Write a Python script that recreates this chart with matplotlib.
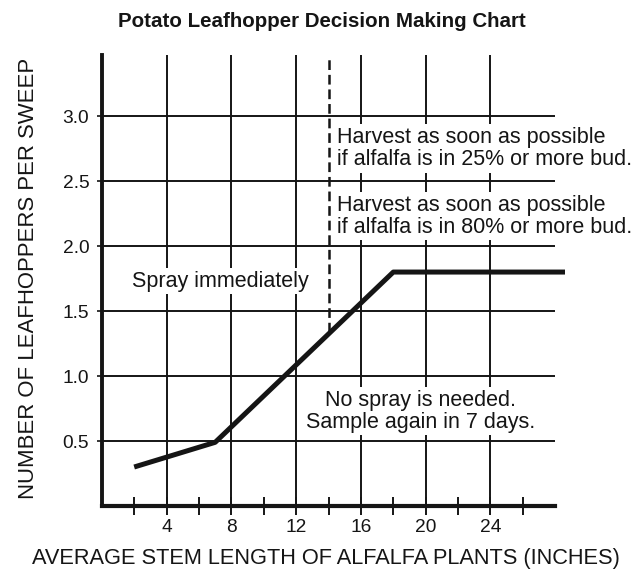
import matplotlib
matplotlib.use("Agg")
import matplotlib.pyplot as plt

plt.rcParams["font.family"] = ["Liberation Sans", "DejaVu Sans"]
plt.rcParams["lines.scale_dashes"] = False

# ── DATA ──────────────────────────
stem_length = [2, 7, 18, 28.6]          # inches
threshold   = [0.30, 0.49, 1.80, 1.80]  # leafhoppers per sweep
x_major     = [4, 8, 12, 16, 20, 24]
x_minor     = [2, 6, 10, 14, 18, 22, 26]
y_ticks     = [0.5, 1.0, 1.5, 2.0, 2.5, 3.0]
y_labels    = ["0.5", "1.0", "1.5", "2.0", "2.5", "3.0"]
bud_line_x  = 14
bud_line_y0 = 1.34

INK = "#151515"
W, H = 637, 573

fig = plt.figure(figsize=(W / 100, H / 100), dpi=100)
ax = fig.add_axes([101.8 / W, 1 - 506 / H, (565 - 101.8) / W, (506 - 55) / H])
ax.set_xlim(0, 28.6)
ax.set_ylim(0, 3.47)

# grid
for x in x_major:
    ax.axvline(x, color=INK, lw=1.4, zorder=1)
ax.hlines(y_ticks, 0, 28, color=INK, lw=1.4, zorder=1)

# 80% bud dashed line
ax.vlines(bud_line_x, bud_line_y0, 3.47, color=INK, lw=1.8,
          linestyles=[(0, (7, 3.5))], zorder=4)

# threshold curve
ax.plot(stem_length, threshold, color=INK, lw=3.6,
        solid_capstyle="butt", zorder=5)

# spines / ticks
for s in ("top", "right"):
    ax.spines[s].set_visible(False)
ax.spines["left"].set_linewidth(2.8)
ax.spines["bottom"].set_linewidth(3.0)
ax.spines["bottom"].set_bounds(0, 28)
ax.spines["left"].set_color(INK)
ax.spines["bottom"].set_color(INK)

all_x = sorted(x_major + x_minor)
ax.set_xticks(all_x)
ax.set_xticklabels([str(x) if x in x_major else "" for x in all_x])
ax.tick_params(axis="x", direction="inout", length=13, width=1.4,
               colors=INK, labelsize=13.8, pad=3)
ax.set_yticks(y_ticks)
ax.set_yticklabels(y_labels)
ax.tick_params(axis="y", direction="out", length=3.6, width=1.2,
               colors=INK, labelsize=13.8, pad=5.5)

box = dict(facecolor="white", edgecolor="none", pad=2)
txt = dict(fontsize=15.5, color=INK, linespacing=1.05, zorder=3, bbox=box)

ax.text(14.52, 2.75, "Harvest as soon as possible\nif alfalfa is in 25% or more bud.",
        ha="left", va="center", **txt)
ax.text(14.52, 2.23, "Harvest as soon as possible\nif alfalfa is in 80% or more bud.",
        ha="left", va="center", **txt)
ax.text(1.86, 1.73, "Spray immediately", ha="left", va="center", **txt)
ax.text(19.7, 0.73, "No spray is needed.\nSample again in 7 days.",
        ha="center", va="center", multialignment="center", **txt)

fig.text(322 / W, 1 - 27 / H, "Potato Leafhopper Decision Making Chart",
         ha="center", va="baseline", fontsize=14.75, fontweight="bold", color=INK)
fig.text(326 / W, 1 - 564 / H, "AVERAGE STEM LENGTH OF ALFALFA PLANTS (INCHES)",
         ha="center", va="baseline", fontsize=15.7, color=INK)
fig.text(29 / W, 1 - 278 / H, "NUMBER OF LEAFHOPPERS PER SWEEP",
         ha="center", va="center", rotation=90, fontsize=15.9, color=INK)

fig.savefig("out.png", dpi=100, facecolor="white")
